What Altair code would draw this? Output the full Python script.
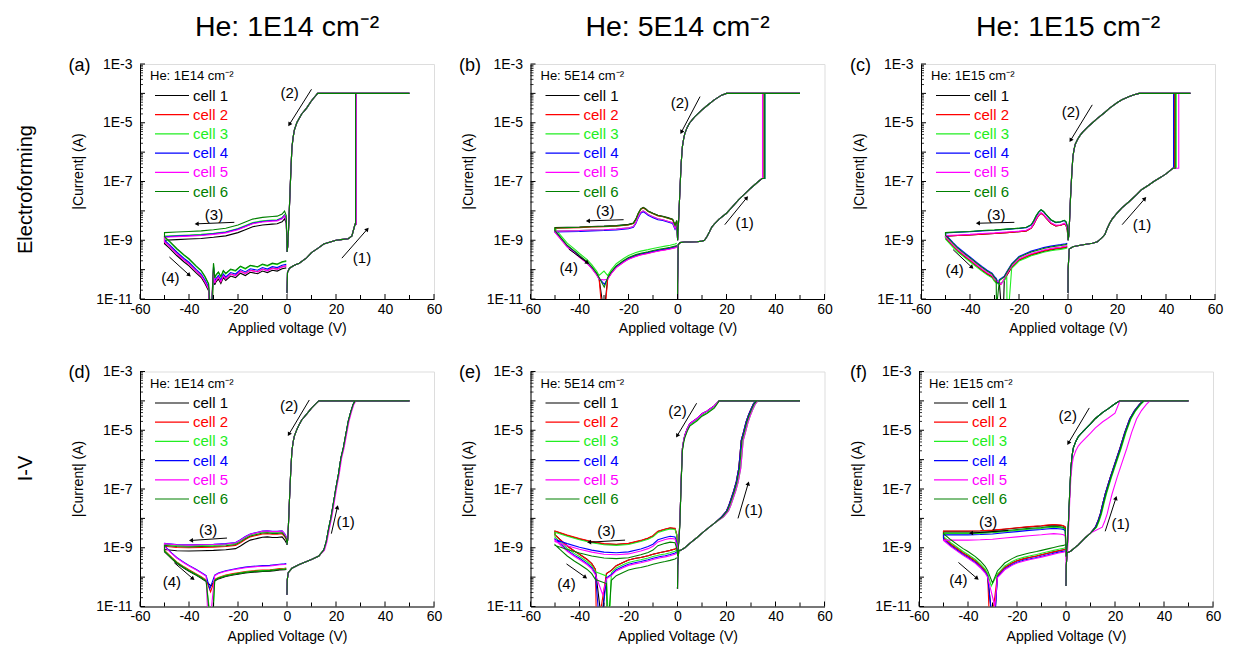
import math
import altair as alt
import pandas as pd

FONT = "Liberation Sans, Arial, Helvetica, sans-serif"
NARROW = "Liberation Sans Narrow, Arial Narrow, Liberation Sans, sans-serif"
W, H = 294, 235

CELLS = ["cell 1", "cell 2", "cell 3", "cell 4", "cell 5", "cell 6"]
COLORS = ["#000000", "#ff0000", "#22ee22", "#0000ff", "#ff00ff", "#008000"]

COL_TITLES = ["He: 1E14 cm\u207b\u00b2", "He: 5E14 cm\u207b\u00b2", "He: 1E15 cm\u207b\u00b2"]
ROW_TITLES = ["Electroforming", "I-V"]
TAGS = ["(a)", "(b)", "(c)", "(d)", "(e)", "(f)"]
X_TITLES = ["Applied voltage (V)", "Applied Voltage (V)"]
ANN_TEXT = ["(1)", "(2)", "(3)", "(4)"]
X_TICKS_MAJOR = [-60, -40, -20, 0, 20, 40, 60]
X_TICKS_MINOR = [-50, -30, -10, 10, 30, 50]
Y_DECADES = [-11, -10, -9, -8, -7, -6, -5, -4, -3]
Y_MINOR_MULT = [2, 3, 4, 5, 6, 7, 8, 9]

# ---------------- panel (a): electroforming, 1E14 ----------------
A_B1_V = [0, 0.2, 1, 3, 5, 8, 10, 13, 15, 18, 20, 22, 25, 26.5, 27.3, 27.8]
A_B1_L = [-10.8, -10.1, -9.95, -9.85, -9.78, -9.6, -9.42, -9.25, -9.13, -9.05, -9.0, -8.98, -8.95, -8.85, -8.6, -8.45]
A_VSET = [28.1, 28.0, 28.2, 28.1, 28.3, 28.0]
A_B2_V = [50, 12.5, 10, 8, 6, 5, 4, 3, 2.5, 2, 1.5, 1, 0.6, 0.3, 0.05]
A_B2_L = [-4, -4, -4.25, -4.5, -4.7, -4.85, -5.0, -5.25, -5.5, -5.85, -6.8, -7.85, -8.7, -9.2, -9.4]
A_B3_V = [-0.3, -1, -2, -4, -6, -10, -14, -17, -20, -25, -30, -35, -40, -45, -50]
A_B3_L = [-8.3, -8.15, -8.25, -8.32, -8.33, -8.36, -8.42, -8.52, -8.62, -8.73, -8.78, -8.82, -8.84, -8.86, -8.88]
A_OFF3 = [-0.12, 0.0, 0.02, 0.0, -0.02, 0.14]
A_B4_V = [-50, -48, -45, -42, -40, -37, -35, -33.5, -32, -30, -29.5, -29, -28, -27, -26, -25, -23, -21, -19, -17, -15, -12, -10, -8, -6, -4, -2, -0.3]
A_B4_L = [-9.0, -9.15, -9.4, -9.62, -9.75, -10.0, -10.15, -10.35, -10.6, -9.9, -10.4, -10.3, -10.2, -10.35, -10.15, -10.25, -10.1, -10.15, -10.0, -10.08, -9.97, -10.02, -9.93, -9.98, -9.9, -9.93, -9.85, -9.82]
A_OFF4 = [-0.12, -0.05, 0.1, 0.0, -0.06, 0.12]
A_DIP_V = [-31.2, -30.8, -30.6, -31.0, -31.4, -31.1]
A_DIP_L = [-12, -12, -12, -12, -12, -12]
A_ANN_V = [30.6, 1.1, -29.8, -47.6]
A_ANN_L = [-9.61, -4.0, -8.13, -10.29]
A_ARR_V1 = [22.4, 10.0, -21.5, -48.0]
A_ARR_L1 = [-9.61, -3.86, -8.39, -9.57]
A_ARR_V2 = [32.6, 1.1, -36.6, -40.1]
A_ARR_L2 = [-8.64, -5.04, -8.44, -10.17]

# ---------------- panel (b): electroforming, 5E14 ----------------
B_B1_V = [0, 0.05, 0.3, 1, 3, 5, 8, 10, 11, 12, 13, 14, 15, 17, 20, 22, 25, 28, 30, 33, 34.5]
B_B1_L = [-11.5, -10.5, -9.15, -9.08, -9.06, -9.06, -9.05, -9.03, -9.0, -8.88, -8.72, -8.55, -8.45, -8.28, -8.08, -7.9, -7.62, -7.38, -7.22, -7.0, -6.9]
B_VSET = [35.5, 35.3, 35.8, 35.6, 34.7, 35.4]
B_B2_V = [50, 21, 20, 18, 15, 12, 10, 7, 5, 4, 3, 2.5, 2, 1.5, 1, 0.6, 0.3, 0.05]
B_B2_L = [-4, -4, -4.0, -4.06, -4.22, -4.42, -4.56, -4.8, -5.0, -5.15, -5.36, -5.55, -5.81, -6.38, -7.28, -8.05, -8.6, -9.0]
B_B3_V = [-0.3, -1, -2, -4, -6, -8, -10, -12, -13, -14, -15, -16, -17, -18, -20, -25, -30, -35, -40, -45, -50]
B_B3_L = [-8.4, -8.55, -8.35, -8.3, -8.25, -8.22, -8.15, -8.07, -8.0, -7.95, -8.0, -8.15, -8.35, -8.48, -8.53, -8.57, -8.59, -8.6, -8.62, -8.63, -8.64]
B_OFF3 = [0.07, 0.05, -0.05, -0.08, -0.05, 0.06]
B_B4_V = [-50, -47, -45, -42, -40, -37, -35, -33, -32, -28.5, -27, -25, -22, -20, -17, -15, -12, -10, -7, -5, -3, -1, -0.3]
B_B4_L = [-8.7, -9.0, -9.2, -9.4, -9.55, -9.75, -9.93, -10.15, -10.3, -10.3, -10.1, -9.9, -9.72, -9.62, -9.52, -9.47, -9.42, -9.38, -9.33, -9.3, -9.27, -9.23, -9.2]
B_OFF4 = [0.0, -0.02, 0.1, 0.0, -0.03, 0.03]
B_DIP_V = [-30.0, -30.2, -30.0, -29.8, -30.1, -29.9]
B_DIP_L = [-11.5, -12, -10.05, -10.5, -10.35, -10.6]
B_ANN_V = [27.4, 1.0, -29.5, -44.4]
B_ANN_L = [-8.42, -4.34, -8.02, -9.95]
B_ARR_V1 = [19.3, 9.2, -22.0, -44.4]
B_ARR_L1 = [-8.47, -4.11, -8.30, -9.30]
B_ARR_V2 = [28.1, 1.7, -36.3, -37.0]
B_ARR_L2 = [-7.57, -5.30, -8.34, -9.75]

# ---------------- panel (c): electroforming, 1E15 ----------------
C_B1_V = [0, 0.05, 0.5, 2, 5, 8, 10, 12, 13, 14, 15, 16, 17, 18, 20, 22, 25, 28, 30, 33, 35, 38, 40, 42.8]
C_B1_L = [-10.8, -10.0, -9.3, -9.22, -9.17, -9.13, -9.1, -9.05, -8.98, -8.9, -8.81, -8.6, -8.42, -8.28, -8.08, -7.9, -7.68, -7.45, -7.28, -7.12, -7.0, -6.85, -6.74, -6.55]
C_VSET = [43.3, 43.5, 44.2, 43.1, 45.2, 43.8]
C_B2_V = [50, 29, 27, 25, 22, 20, 17, 15, 12, 10, 8, 6, 5, 4, 3, 2.5, 2, 1.5, 1, 0.6, 0.3, 0.05]
C_B2_L = [-4, -4, -4.05, -4.11, -4.22, -4.32, -4.5, -4.65, -4.85, -5.0, -5.15, -5.32, -5.42, -5.55, -5.72, -5.9, -6.15, -6.8, -7.6, -8.4, -8.85, -9.0]
C_B3_V = [-0.3, -0.8, -1.5, -3, -5, -7, -9, -10, -11, -12, -13, -14, -15, -17, -20, -25, -30, -35, -40, -45, -50]
C_B3_L = [-8.6, -8.45, -8.4, -8.45, -8.47, -8.38, -8.2, -8.1, -8.04, -8.12, -8.25, -8.42, -8.55, -8.64, -8.67, -8.7, -8.73, -8.75, -8.78, -8.8, -8.82]
C_OFF3 = [-0.04, -0.04, 0.08, 0.07, -0.02, 0.08]
C_B4_V = [-50, -47, -45, -42, -40, -37, -35, -33, -31, -30, -29.3, -28, -26, -25, -23, -20, -17, -15, -12, -10, -7, -5, -3, -1, -0.3]
C_B4_L = [-8.88, -9.15, -9.32, -9.52, -9.65, -9.85, -9.98, -10.1, -10.2, -10.32, -10.38, -10.42, -10.3, -10.15, -9.88, -9.63, -9.52, -9.45, -9.38, -9.33, -9.28, -9.25, -9.23, -9.2, -9.18]
C_OFF4 = [-0.05, -0.03, -0.08, 0.08, 0.0, 0.05]
C_DIP_V = [-26.6, -27.5, -24.8, -28.5, -27.2, -29.2]
C_DIP_L = [-12, -10.5, -12, -10.45, -10.5, -11.3]
C_ANN_V = [30.2, 1.2, -29.3, -46.3]
C_ANN_L = [-8.47, -4.62, -8.13, -10.0]
C_ARR_V1 = [22.1, 9.9, -21.9, -46.9]
C_ARR_L1 = [-8.47, -4.39, -8.39, -9.32]
C_ARR_V2 = [31.2, 1.2, -36.5, -39.4]
C_ARR_L2 = [-7.60, -5.58, -8.42, -9.91]

# ---------------- panel (d): I-V, 1E14 ----------------
D_B1_V = [0, 0.1, 0.5, 2, 5, 8, 10, 13, 15, 16, 17, 18, 19, 20, 21, 22, 23, 24, 25, 26, 27, 27.8]
D_B1_L = [-10.6, -10.1, -9.85, -9.7, -9.57, -9.47, -9.4, -9.28, -9.08, -8.8, -8.35, -7.95, -7.45, -6.95, -6.5, -5.95, -5.6, -5.15, -4.7, -4.38, -4.12, -4.0]
D_DV1 = [0, 0, 0, 0, 0.3, 0]
D_KNEE = 15
D_B2_V = [50, 13, 12, 10, 8, 6, 5, 4, 3, 2.5, 2, 1.5, 1, 0.6, 0.3, 0.05]
D_B2_L = [-4, -4, -4.08, -4.25, -4.45, -4.65, -4.8, -4.98, -5.2, -5.4, -5.7, -6.45, -7.38, -8.2, -8.7, -8.9]
D_OFF2 = [0, 0, 0, 0, 0, 0]
D_B3_V = [-0.3, -1, -2, -4, -6, -8, -10, -12, -15, -17, -19, -21, -25, -30, -35, -40, -45, -50]
D_B3_L = [-8.65, -8.55, -8.45, -8.47, -8.47, -8.45, -8.46, -8.5, -8.56, -8.65, -8.76, -8.85, -8.89, -8.91, -8.92, -8.93, -8.92, -8.88]
D_OFF3 = [-0.18, -0.07, 0.0, 0.03, 0.02, -0.04]
D_B4_V = [-50, -47, -45, -42, -40, -37, -35, -33, -29.5, -28, -25, -22, -20, -17, -15, -12, -10, -7, -5, -3, -1, -0.3]
D_B4_L = [-9.06, -9.3, -9.45, -9.62, -9.72, -9.86, -9.96, -10.07, -10.05, -9.98, -9.9, -9.85, -9.82, -9.78, -9.76, -9.74, -9.73, -9.72, -9.7, -9.68, -9.67, -9.66]
D_OFF4 = [-0.08, -0.03, -0.05, 0.12, 0.1, -0.06]
D_DIP_V = [-31.0, -31.2, -30.5, -31.5, -32.0, -30.8]
D_DIP_L = [-10.3, -10.5, -12, -10.4, -12, -12]
D_ANN_V = [23.9, 0.9, -32.2, -47.0]
D_ANN_L = [-8.11, -4.19, -8.39, -10.16]
D_ARR_V1 = [18.1, 9.1, -24.5, -46.0]
D_ARR_L1 = [-8.52, -3.97, -8.67, -9.51]
D_ARR_V2 = [20.5, 0.9, -38.9, -38.6]
D_ARR_L2 = [-7.64, -5.12, -8.75, -10.04]

# ---------------- panel (e): I-V, 5E14 ----------------
E_B1_V = [0, 0.1, 0.5, 1, 3, 5, 8, 10, 13, 15, 18, 20, 21, 22, 23, 24, 25, 25.5, 26, 27, 28, 29, 30, 31, 32]
E_B1_L = [-10.4, -9.6, -9.08, -9.1, -9.0, -8.85, -8.65, -8.5, -8.3, -8.17, -7.95, -7.75, -7.55, -7.3, -7.05, -6.75, -6.3, -5.85, -5.35, -5.05, -4.72, -4.48, -4.28, -4.1, -4.0]
E_DV1 = [0, 0, 0.8, 0, 0.8, 0.3]
E_KNEE = 18
E_B2_V = [50, 17, 15, 12, 10, 8, 6, 5, 4, 3, 2.5, 2, 1.5, 1, 0.6, 0.3, 0.05]
E_B2_L = [-4, -4, -4.17, -4.35, -4.44, -4.6, -4.72, -4.78, -4.95, -5.17, -5.35, -5.62, -6.7, -8.05, -8.7, -8.95, -9.2]
E_OFF2 = [0, 0, -0.05, 0, 0, -0.08]
E_B3_V = [-0.3, -1, -3, -5, -8, -10, -12, -15, -20, -25, -30, -35, -40, -45, -50]
E_B3_L = [-8.55, -8.35, -8.33, -8.37, -8.45, -8.6, -8.68, -8.76, -8.86, -8.89, -8.87, -8.8, -8.7, -8.58, -8.44]
E_OFF3 = [0.0, 0.01, -0.03, -0.28, -0.35, -0.48]
E_B4_V = [-50, -47, -45, -42, -40, -37, -35, -33.5, -29, -27, -25, -22, -20, -17, -15, -12, -10, -7, -5, -3, -1, -0.3]
E_B4_L = [-8.62, -8.85, -9.0, -9.18, -9.28, -9.45, -9.6, -9.8, -9.94, -9.83, -9.67, -9.55, -9.48, -9.42, -9.39, -9.33, -9.28, -9.22, -9.19, -9.15, -9.1, -9.06]
E_OFF4 = [0.06, 0.06, -0.02, -0.08, -0.12, -0.28]
E_DIP_V = [-31.0, -33.0, -28.0, -31.5, -30.5, -28.6]
E_DIP_L = [-11.5, -12, -12, -12, -10.6, -12]
E_ANN_V = [31.1, 0.0, -29.0, -45.3]
E_ANN_L = [-7.72, -4.33, -8.44, -10.22]
E_ARR_V1 = [24.7, 7.8, -21.4, -45.3]
E_ARR_L1 = [-8.0, -4.08, -8.74, -9.55]
E_ARR_V2 = [28.8, 0.0, -35.8, -37.8]
E_ARR_L2 = [-6.83, -5.17, -8.81, -9.99]

# ---------------- panel (f): I-V, 1E15 ----------------
F_B1_V = [0, 0.1, 0.5, 2, 5, 8, 10, 12, 13, 14, 15, 16, 18, 20, 22, 24, 26, 28, 30, 31.5]
F_B1_L = [-10.3, -9.6, -9.17, -9.11, -8.9, -8.65, -8.5, -8.3, -8.1, -7.85, -7.5, -7.17, -6.62, -6.12, -5.62, -5.07, -4.62, -4.33, -4.12, -4.0]
F_DV1 = [0, 0, 0.5, 0, 2.8, 0.3]
F_KNEE = 12
F_B2_V = [50, 22, 20, 17, 15, 12, 10, 8, 6, 5, 4, 3, 2.5, 2, 1.5, 1, 0.6, 0.3, 0.05]
F_B2_L = [-4, -4, -4.1, -4.28, -4.39, -4.6, -4.78, -4.95, -5.12, -5.22, -5.38, -5.6, -5.85, -6.28, -7.15, -8.15, -8.85, -9.1, -9.3]
F_OFF2 = [0, 0, 0, 0, -0.32, 0]
F_B3_V = [-0.3, -1, -2, -5, -8, -10, -15, -20, -25, -30, -35, -40, -45, -50]
F_B3_L = [-8.3, -8.26, -8.24, -8.22, -8.24, -8.26, -8.29, -8.33, -8.37, -8.41, -8.43, -8.44, -8.44, -8.44]
F_OFF3 = [0.0, 0.01, -0.08, -0.12, -0.3, -0.05]
F_B4_V = [-50, -47, -45, -42, -40, -37, -35, -33, -32, -28, -27, -25, -22, -20, -17, -15, -12, -10, -7, -5, -3, -1, -0.3]
F_B4_L = [-8.67, -8.88, -9.0, -9.18, -9.28, -9.45, -9.6, -9.78, -9.92, -9.94, -9.85, -9.67, -9.52, -9.44, -9.37, -9.33, -9.28, -9.24, -9.18, -9.14, -9.1, -9.07, -9.05]
F_OFF4 = [0.0, 0.0, 0.05, -0.05, -0.08, 0.15]
F_DIP_V = [-29.5, -31.0, -30.5, -29.5, -29.0, -30.0]
F_DIP_L = [-12, -12, -10.3, -12, -11, -10.2]
F_ANN_V = [22.3, 0.7, -31.8, -43.9]
F_ANN_L = [-8.19, -4.53, -8.14, -10.09]
F_ARR_V1 = [16.0, 9.5, -23.6, -43.9]
F_ARR_L1 = [-8.44, -4.24, -8.41, -9.5]
F_ARR_V2 = [20.3, 1.1, -38.5, -36.5]
F_ARR_L2 = [-7.33, -5.42, -8.5, -10.03]

ZEROS = [0, 0, 0, 0, 0, 0]

PANELS = {
    "a": dict(b1v=A_B1_V, b1l=A_B1_L, vset=A_VSET, dv1=ZEROS, knee=100, b2v=A_B2_V, b2l=A_B2_L, off2=ZEROS,
              b3v=A_B3_V, b3l=A_B3_L, off3=A_OFF3, b4v=A_B4_V, b4l=A_B4_L, off4=A_OFF4, dipv=A_DIP_V, dipl=A_DIP_L,
              annv=A_ANN_V, annl=A_ANN_L, av1=A_ARR_V1, al1=A_ARR_L1, av2=A_ARR_V2, al2=A_ARR_L2),
    "b": dict(b1v=B_B1_V, b1l=B_B1_L, vset=B_VSET, dv1=ZEROS, knee=100, b2v=B_B2_V, b2l=B_B2_L, off2=ZEROS,
              b3v=B_B3_V, b3l=B_B3_L, off3=B_OFF3, b4v=B_B4_V, b4l=B_B4_L, off4=B_OFF4, dipv=B_DIP_V, dipl=B_DIP_L,
              annv=B_ANN_V, annl=B_ANN_L, av1=B_ARR_V1, al1=B_ARR_L1, av2=B_ARR_V2, al2=B_ARR_L2),
    "c": dict(b1v=C_B1_V, b1l=C_B1_L, vset=C_VSET, dv1=ZEROS, knee=100, b2v=C_B2_V, b2l=C_B2_L, off2=ZEROS,
              b3v=C_B3_V, b3l=C_B3_L, off3=C_OFF3, b4v=C_B4_V, b4l=C_B4_L, off4=C_OFF4, dipv=C_DIP_V, dipl=C_DIP_L,
              annv=C_ANN_V, annl=C_ANN_L, av1=C_ARR_V1, al1=C_ARR_L1, av2=C_ARR_V2, al2=C_ARR_L2),
    "d": dict(b1v=D_B1_V, b1l=D_B1_L, vset=None, dv1=D_DV1, knee=D_KNEE, b2v=D_B2_V, b2l=D_B2_L, off2=D_OFF2,
              b3v=D_B3_V, b3l=D_B3_L, off3=D_OFF3, b4v=D_B4_V, b4l=D_B4_L, off4=D_OFF4, dipv=D_DIP_V, dipl=D_DIP_L,
              annv=D_ANN_V, annl=D_ANN_L, av1=D_ARR_V1, al1=D_ARR_L1, av2=D_ARR_V2, al2=D_ARR_L2),
    "e": dict(b1v=E_B1_V, b1l=E_B1_L, vset=None, dv1=E_DV1, knee=E_KNEE, b2v=E_B2_V, b2l=E_B2_L, off2=E_OFF2,
              b3v=E_B3_V, b3l=E_B3_L, off3=E_OFF3, b4v=E_B4_V, b4l=E_B4_L, off4=E_OFF4, dipv=E_DIP_V, dipl=E_DIP_L,
              annv=E_ANN_V, annl=E_ANN_L, av1=E_ARR_V1, al1=E_ARR_L1, av2=E_ARR_V2, al2=E_ARR_L2),
    "f": dict(b1v=F_B1_V, b1l=F_B1_L, vset=None, dv1=F_DV1, knee=F_KNEE, b2v=F_B2_V, b2l=F_B2_L, off2=F_OFF2,
              b3v=F_B3_V, b3l=F_B3_L, off3=F_OFF3, b4v=F_B4_V, b4l=F_B4_L, off4=F_OFF4, dipv=F_DIP_V, dipl=F_DIP_L,
              annv=F_ANN_V, annl=F_ANN_L, av1=F_ARR_V1, al1=F_ARR_L1, av2=F_ARR_V2, al2=F_ARR_L2),
}


def cell_path(P, k):
    pts = []
    for v, l in zip(P["b1v"], P["b1l"]):
        if v >= P["knee"]:
            v = v + P["dv1"][k]
        if P["vset"] is not None and v >= P["vset"][k]:
            break
        pts.append((v, l))
    if P["vset"] is not None:
        vs = P["vset"][k]
        pts.append((vs, pts[-1][1]))
        pts.append((vs, -4.0))
    for v, l in zip(P["b2v"], P["b2l"]):
        pts.append((v, l + P["off2"][k] if l < -4.001 else l))
    for v, l in zip(P["b3v"], P["b3l"]):
        pts.append((v, l + P["off3"][k]))
    b4 = [(v, l + P["off4"][k]) for v, l in zip(P["b4v"], P["b4l"])]
    b4.append((P["dipv"][k], P["dipl"][k]))
    b4.sort(key=lambda t: t[0])
    pts.extend(b4)
    return pts


LEG_Y0, LEG_DY = 31.5, 19.2
ROW_LABEL_Y = [125.5, 97]


def make_panel(key, idx):
    P = PANELS[key]
    row, col = divmod(idx, 3)
    xsc = alt.Scale(domain=[-60, 60], nice=False, zero=False)
    ysc = alt.Scale(type="log", domain=[1e-11, 1e-3], nice=False)
    xax = alt.Axis(values=X_TICKS_MAJOR, labelExpr="'' + datum.value", ticks=False, grid=False,
                   labelFlush=False, labelOverlap=False,
                   labelPadding=3, labelFont=FONT, labelFontSize=14, labelColor="black",
                   domainColor="black", title=X_TITLES[row], titleFont=FONT, titleFontSize=14,
                   titleFontWeight="normal", titleColor="black", titleY=29.5, titleBaseline="middle")
    yexpr = "(round(log(datum.value)/LN10) % 2 != 0) ? '1E' + round(log(datum.value)/LN10) : ''"
    yax = alt.Axis(values=[10.0 ** e for e in Y_DECADES], labelExpr=yexpr, ticks=False, grid=False,
                   labelFlush=False, labelOverlap=False, labelPadding=8, labelFont=FONT, labelFontSize=14,
                   labelColor="black", domainColor="black", title="|Current| (A)", titleFont=FONT,
                   titleFontSize=14, titleFontWeight="normal", titleColor="black", titleX=-62, titleY=107,
                   titleAngle=270, titleAlign="center", titleBaseline="middle")

    def X(f):
        return alt.X(f, type="quantitative", scale=xsc, axis=xax)

    def Y(f):
        return alt.Y(f, type="quantitative", scale=ysc, axis=yax)

    rows = []
    for k, c in enumerate(CELLS):
        for i, (v, l) in enumerate(cell_path(P, k)):
            rows.append({"cell": c, "k": k, "i": i, "V": v, "I": 10.0 ** l})
    df = pd.DataFrame(rows)

    layers = []
    layers.append(
        alt.Chart(df).mark_line(clip=True, strokeWidth=1.1, interpolate="linear").encode(
            x=X("V"), y=Y("I"),
            color=alt.Color("cell:N", scale=alt.Scale(domain=CELLS, range=COLORS), legend=None),
            order=alt.Order("i:Q"))
    )
    # inward ticks
    ymaj = pd.DataFrame({"I": [10.0 ** e for e in Y_DECADES]})
    ymin = pd.DataFrame({"I": [m * 10.0 ** e for e in Y_DECADES[:-1] for m in Y_MINOR_MULT]})
    layers.append(alt.Chart(ymaj).mark_rule(color="black", strokeWidth=1).encode(
        y=Y("I"), x=alt.value(0), x2=alt.value(5)))
    layers.append(alt.Chart(ymin).mark_rule(color="black", strokeWidth=0.8).encode(
        y=Y("I"), x=alt.value(0), x2=alt.value(3)))
    layers.append(alt.Chart(pd.DataFrame({"V": X_TICKS_MAJOR})).mark_rule(color="black", strokeWidth=1).encode(
        x=X("V"), y=alt.value(H), y2=alt.value(H - 5)))
    layers.append(alt.Chart(pd.DataFrame({"V": X_TICKS_MINOR})).mark_rule(color="black", strokeWidth=1).encode(
        x=X("V"), y=alt.value(H), y2=alt.value(H - 4)))

    # legend (inside plot)
    layers.append(alt.Chart(pd.DataFrame({"t": [COL_TITLES[col]]})).mark_text(
        align="left", baseline="middle", font=FONT, fontSize=13, color="black").encode(
        x=alt.value(10), y=alt.value(12), text="t:N"))
    for k, (c, colr) in enumerate(zip(CELLS, COLORS)):
        yy = LEG_Y0 + LEG_DY * k
        layers.append(alt.Chart(pd.DataFrame({"t": [c]})).mark_rule(color=colr, strokeWidth=1.2).encode(
            x=alt.value(15), x2=alt.value(49), y=alt.value(yy)))
        layers.append(alt.Chart(pd.DataFrame({"t": [c]})).mark_text(
            align="left", baseline="middle", font=FONT, fontSize=15, color=colr).encode(
            x=alt.value(53), y=alt.value(yy), text="t:N"))

    # annotations
    ann = pd.DataFrame({"t": ANN_TEXT, "V": P["annv"], "I": [10.0 ** l for l in P["annl"]]})
    layers.append(alt.Chart(ann).mark_text(font=FONT, fontSize=15, color="black", baseline="middle").encode(
        x=X("V"), y=Y("I"), text="t:N"))
    angs = []
    for v1, l1, v2, l2 in zip(P["av1"], P["al1"], P["av2"], P["al2"]):
        dx = (v2 - v1) * W / 120.0
        dys = -(l2 - l1) * H / 8.0
        angs.append(math.degrees(math.atan2(dx, -dys)) % 360)
    arr = pd.DataFrame({"x1": P["av1"], "y1": [10.0 ** l for l in P["al1"]],
                        "x2": P["av2"], "y2": [10.0 ** l for l in P["al2"]], "ang": angs})
    layers.append(alt.Chart(arr).mark_rule(color="black", strokeWidth=1).encode(
        x=X("x1"), x2=alt.X2("x2"), y=Y("y1"), y2=alt.Y2("y2")))
    layers.append(alt.Chart(arr).mark_point(shape="triangle", filled=True, size=22, color="black", opacity=1).encode(
        x=X("x2"), y=Y("y2"), angle=alt.Angle("ang:Q", scale=None)))

    # panel tag
    layers.append(alt.Chart(pd.DataFrame({"t": [TAGS[idx]]})).mark_text(
        font=FONT, fontSize=18, color="black", baseline="middle").encode(
        x=alt.value(-60.5), y=alt.value(1.5), text="t:N"))
    if col == 0:
        layers.append(alt.Chart(pd.DataFrame({"t": [ROW_TITLES[row]]})).mark_text(
            font=FONT, fontSize=20, color="black", angle=270, baseline="middle").encode(
            x=alt.value(-114), y=alt.value(ROW_LABEL_Y[row]), text="t:N"))

    ch = alt.layer(*layers).properties(width=W, height=H)
    if row == 0:
        ch = ch.properties(title=alt.TitleParams(COL_TITLES[col], font=NARROW, fontSize=28.5, fontWeight="normal",
                                                  color="black", anchor="middle", frame="group", offset=15))
    return ch


panels = [make_panel(k, i) for i, k in enumerate("abcdef")]
row1 = alt.hconcat(*panels[:3], spacing=15.5)
row2 = alt.hconcat(*panels[3:], spacing=15.5)
chart = alt.vconcat(row1, row2, spacing=27.5).properties(
    padding={"left": 15, "top": 12, "right": 5, "bottom": 5}
).configure_view(stroke="black", strokeWidth=1).configure(background="white")

chart.save("out.html", embed_options={"renderer": "svg", "actions": False})
